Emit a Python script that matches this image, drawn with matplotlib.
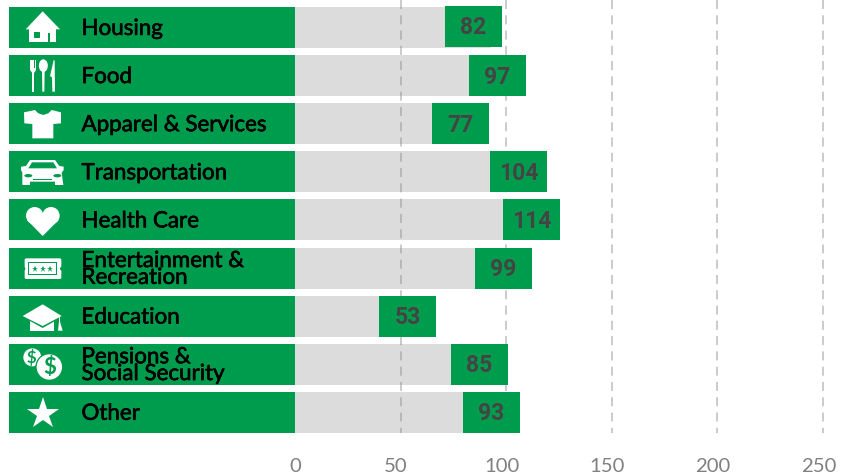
import matplotlib
matplotlib.use("Agg")
import matplotlib.pyplot as plt
import matplotlib.patheffects as pe
from matplotlib.patches import Polygon, Circle, Rectangle, Ellipse, FancyBboxPatch

categories = ["Housing", "Food", "Apparel & Services", "Transportation", "Health Care",
              "Entertainment &\nRecreation", "Education", "Pensions &\nSocial Security", "Other"]
values = [82, 97, 77, 104, 114, 99, 53, 85, 93]
# left edge of each green value box
box_start = [71.0, 82.4, 64.9, 92.3, 98.5, 85.2, 39.8, 73.8, 79.5]
box_width = 27.0
xticks = [0, 50, 100, 150, 200, 250]
grid_at = [50, 100, 150, 200, 250]

GREEN = "#009c4e"
GREY = "#dcdcdc"
FONT = ["Lato", "DejaVu Sans"]
plt.rcParams["lines.scale_dashes"] = False

W, H = 852, 474
fig = plt.figure(figsize=(W / 100, H / 100), dpi=100)

# data axes fills the figure: 0 sits at px 295, rows are 48.1 px apart
PX = 2.112
ax = fig.add_axes([0, 0, 1, 1])
ax.set_xlim(-295 / PX, (W - 295) / PX)
ax.set_ylim((H - 27.5) / 48.1, -27.5 / 48.1)
ax.axis("off")

rows = range(len(categories))
bar_h = 41 / 48.1
label_left = -135.2

ax.barh(rows, [-label_left] * 9, left=label_left, height=bar_h, color=GREEN, zorder=1, lw=0)
ax.barh(rows, [s + box_width - 5 for s in box_start], height=bar_h, color=GREY, zorder=1, lw=0)
ax.vlines(grid_at, -0.58, 8.43, colors="#888888", alpha=0.55, lw=1.1,
          linestyles=(0, (6.5, 4.5)), zorder=2)
for i, (s, v, c) in enumerate(zip(box_start, values, categories)):
    # the first box sits one pixel higher than its grey bar
    y = i - (1 / 48.1 if i == 0 else 0)
    ax.barh(y, box_width, left=s, height=bar_h, color=GREEN, zorder=3, lw=0)
    ax.text(s + box_width / 2, y + 0.03, str(v), ha="center", va="center", zorder=4,
            fontsize=16.5, color="#444444", family=["Roboto", "DejaVu Sans"], fontweight="semibold")
    lab = ax.text((81.5 - 295) / PX, i + 0.03, c, ha="left", va="center", zorder=4, fontsize=16.1,
                  color="black", family=FONT, fontweight="normal", linespacing=0.8)
    # no medium weight installed, so thicken the regular one a little
    lab.set_path_effects([pe.withStroke(linewidth=0.45, foreground="black")])

for t in xticks:
    ax.annotate(str(t), (t, 0), xycoords=("data", "axes fraction"),
                xytext=(0 if t == 0 else -3.3, 1.2), textcoords="offset points",
                ha="center", va="baseline", fontsize=14.6, color="#808080",
                family=FONT, fontweight="normal")

# icons, traced in zoomed (3x) pixel coordinates
ic = fig.add_axes([0, 0, 1, 1], facecolor="none")
ic.set_xlim(0, W * 3)
ic.set_ylim(H * 3, 0)
ic.axis("off")


def poly(pts, color="white", dy=0):
    ic.add_patch(Polygon([(x, y + dy) for x, y in pts], closed=True, fc=color, ec="none", zorder=5))


def rect(x0, y0, x1, y1, color="white", dy=0):
    ic.add_patch(Rectangle((x0, y0 + dy), x1 - x0, y1 - y0, fc=color, ec="none", zorder=6))


# house
poly([(77, 88), (128, 34), (180, 88)])
rect(87, 86, 168, 125)
rect(101, 97, 120, 115, GREEN)
rect(143, 100, 149, 125, GREEN)

# fork, spoon, knife
rect(96, 210, 103, 275)
poly([(90, 180), (108, 180), (108, 210), (103, 218), (96, 218), (90, 210)])
for fx in (94.5, 101):
    rect(fx, 180, fx + 2.5, 205, GREEN)
ic.add_patch(Ellipse((130, 197), 27, 38, fc="white", ec="none", zorder=5))
poly([(126, 210), (134, 210), (133, 275), (127, 275)])
poly([(161, 180), (164, 182), (165, 275), (157, 275), (156, 232), (150, 228)])

# t-shirt
poly([(72, 337), (105, 330), (115, 340), (130, 345), (145, 340), (155, 330), (183, 337),
      (183, 370), (160, 372), (160, 415), (97, 415), (97, 372), (73, 370)])

# car
poly([(90, 480), (165, 480), (178, 498), (191, 500), (191, 510), (185, 518), (190, 555),
      (165, 555), (165, 545), (90, 545), (90, 555), (67, 555), (67, 518), (63, 510), (63, 500), (78, 498)])
poly([(96, 487), (160, 487), (171, 505), (85, 505)], GREEN)
ic.add_patch(Ellipse((85, 527), 24, 10, fc=GREEN, ec="none", zorder=6))
ic.add_patch(Ellipse((172, 527), 24, 10, fc=GREEN, ec="none", zorder=6))
rect(100, 538, 157, 541, GREEN)

# heart
ic.add_patch(Circle((104, 647), 26, fc="white", ec="none", zorder=5))
ic.add_patch(Circle((153, 647), 26, fc="white", ec="none", zorder=5))
poly([(81, 660), (128, 708), (176, 660), (128, 640)])

# ticket
D2 = 720
ic.add_patch(FancyBboxPatch((74, 55 + D2), 110, 62, boxstyle="round,pad=0,rounding_size=5",
                            fc="white", ec="none", zorder=5))
ic.add_patch(Circle((70, 86 + D2), 6, fc=GREEN, ec="none", zorder=6))
ic.add_patch(Circle((186, 86 + D2), 6, fc=GREEN, ec="none", zorder=6))
rect(85, 65 + D2, 170, 106 + D2, GREEN)
rect(88, 68 + D2, 167, 103 + D2)
ic.plot([105, 128, 151], [86 + D2] * 3, ls="none", marker="*", ms=5, color=GREEN, mew=0, zorder=7)

# mortarboard
poly([(68, 228), (128, 193), (185, 228), (128, 258)], dy=D2)
poly([(90, 243), (128, 264), (162, 245), (162, 273), (90, 273)], dy=D2)
poly([(177, 232), (180, 232), (180, 245), (188, 272), (174, 272), (177, 245)], dy=D2)

# coins
ic.add_patch(Circle((97, 352 + D2), 27, fc="white", ec="none", zorder=5))
ic.add_patch(Circle((148, 381 + D2), 42, fc=GREEN, ec="none", zorder=6))
ic.add_patch(Circle((148, 381 + D2), 38, fc="white", ec="none", zorder=7))
ic.text(93, 352 + D2, "$", color=GREEN, fontsize=12, fontweight="bold", ha="center", va="center",
        parse_math=False, zorder=7, family=FONT)
ic.text(148, 381 + D2, "$", color=GREEN, fontsize=16, fontweight="bold", ha="center", va="center",
        parse_math=False, zorder=8, family=FONT)

# star
ic.plot([128], [522 + D2], ls="none", marker="*", ms=24, color="white", mew=0, zorder=5)

fig.savefig("out.png", dpi=100, facecolor="white")
